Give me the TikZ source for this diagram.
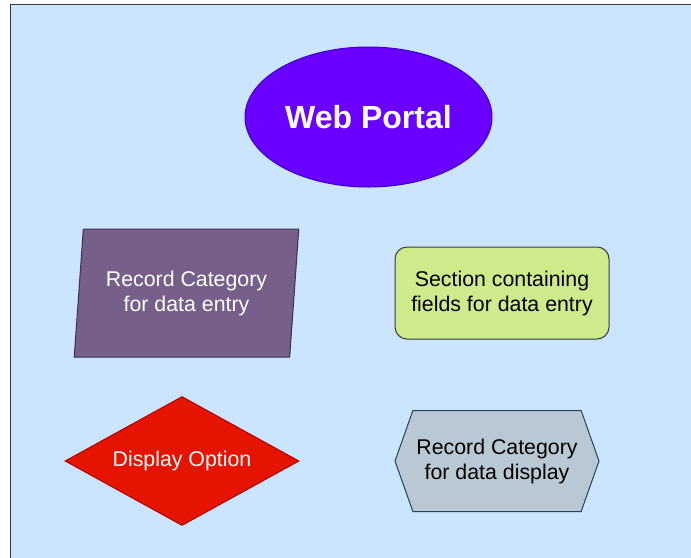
\documentclass[tikz,border=0pt]{standalone}
\usepackage{fontspec}
\setmainfont{Liberation Sans}
\usetikzlibrary{shapes.geometric,shapes.symbols}

\definecolor{bgfill}{HTML}{CCE5FF}
\definecolor{bgline}{HTML}{36393D}
\definecolor{portalfill}{HTML}{6A00FF}
\definecolor{portalline}{HTML}{3700CC}
\definecolor{entryfill}{HTML}{76608A}
\definecolor{entryline}{HTML}{432D57}
\definecolor{fieldfill}{HTML}{CDEB8B}
\definecolor{fieldline}{HTML}{36393D}
\definecolor{optionfill}{HTML}{E51400}
\definecolor{optionline}{HTML}{B20000}
\definecolor{displayfill}{HTML}{BAC8D3}
\definecolor{displayline}{HTML}{23445D}

\tikzset{
  box/.style={draw, inner sep=0pt, align=center, line width=0.75pt},
}

\begin{document}
\begin{tikzpicture}[x=0.75pt, y=-0.75pt, font=\fontsize{16}{18.75}\selectfont]
	\clip (0,0) rectangle (691,557);
	\draw[bgline, fill=bgfill, line width=1.2pt] (10.5,4.5) rectangle (720,600);
	\node[box, ellipse, draw=portalline, fill=portalfill, text=white, minimum width=185.25pt, minimum height=105pt, font=\fontsize{24}{28}\selectfont\bfseries] (portal) at (368.5,117) {Web Portal};
	\node[box, trapezium, trapezium left angle=81, trapezium right angle=99, trapezium stretches=true, draw=entryline, fill=entryfill, text=white, minimum width=168.75pt, minimum height=96pt] (entry) at (186.5,293) {Record Category\\for data entry};
	\node[box, rectangle, rounded corners=9pt, draw=fieldline, fill=fieldfill, minimum width=160.5pt, minimum height=69pt] (fields) at (502,293) {Section containing\\fields for data entry};
	\node[box, diamond, aspect=1.8, draw=optionline, fill=optionfill, text=white, minimum width=175.5pt, minimum height=96.75pt] (option) at (182,461) {Display Option};
	\node[box, signal, signal to=east and west, signal pointer angle=141, draw=displayline, fill=displayfill, minimum width=153pt, minimum height=75.75pt] (display) at (497,461) {Record Category\\for data display};
\end{tikzpicture}
\end{document}
